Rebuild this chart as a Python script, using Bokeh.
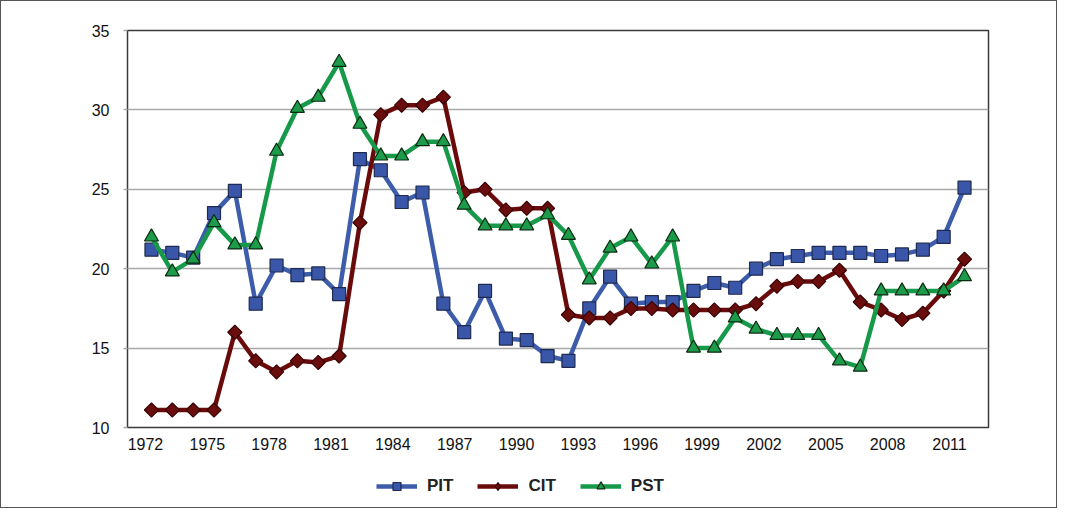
import math
from bokeh.plotting import figure
from bokeh.layouts import column
from bokeh.models import Legend, LegendItem, FixedTicker, Range1d
from bokeh.embed import file_html
from bokeh.resources import INLINE

years = list(range(1972, 2012))
pit = [21.2, 21.0, 20.7, 23.5, 24.9, 17.8, 20.2, 19.6, 19.7, 18.4,
       26.9, 26.2, 24.2, 24.8, 17.8, 16.0, 18.6, 15.6, 15.5, 14.5,
       14.2, 17.5, 19.5, 17.8, 17.9, 17.9, 18.6, 19.1, 18.8, 20.0,
       20.6, 20.8, 21.0, 21.0, 21.0, 20.8, 20.9, 21.2, 22.0, 25.1]
cit = [11.1, 11.1, 11.1, 11.1, 16.0, 14.2, 13.5, 14.2, 14.1, 14.5,
       22.9, 29.7, 30.3, 30.3, 30.8, 24.8, 25.0, 23.7, 23.8, 23.8,
       17.1, 16.9, 16.9, 17.5, 17.5, 17.4, 17.4, 17.4, 17.4, 17.8,
       18.9, 19.2, 19.2, 19.9, 17.9, 17.4, 16.8, 17.2, 18.6, 20.6]
pst = [22.0, 19.8, 20.6, 22.9, 21.5, 21.5, 27.4, 30.1, 30.8, 33.0,
       29.1, 27.1, 27.1, 28.0, 28.0, 24.0, 22.7, 22.7, 22.7, 23.4,
       22.1, 19.3, 21.3, 22.0, 20.3, 22.0, 15.0, 15.0, 16.9, 16.2,
       15.8, 15.8, 15.8, 14.2, 13.8, 18.6, 18.6, 18.6, 18.6, 19.5]
x_tick_years = list(range(1972, 2012, 3))
y_ticks = [10, 15, 20, 25, 30, 35]
series_names = ["PIT", "CIT", "PST"]

W = 1055
p = figure(width=W, height=455, output_backend="svg", toolbar_location=None,
           x_range=Range1d(1970.85, 2012.15), y_range=Range1d(10, 35),
           min_border_left=126, min_border_right=68, min_border_top=29,
           min_border_bottom=29)
p.outline_line_color = "#3a3a3a"
p.outline_line_width = 1.5

p.xgrid.grid_line_color = None
p.ygrid.grid_line_color = "#a9a9a9"
p.ygrid.grid_line_width = 1.5
p.yaxis.ticker = FixedTicker(ticks=y_ticks)

# category labels sit slightly left of their points in the original
tick_pos = [yr - (0.29 + 0.43 * (yr - 1972) / 39) for yr in x_tick_years]
p.xaxis.ticker = FixedTicker(ticks=tick_pos)
p.xaxis.major_label_overrides = {t: str(yr) for t, yr in zip(tick_pos, x_tick_years)}

for ax in (p.xaxis, p.yaxis):
    ax.axis_line_color = None
    ax.minor_tick_line_color = None
    ax.major_label_text_font = "Liberation Sans"
    ax.major_label_text_color = "#111111"
    ax.major_label_text_font_size = "16px"
p.xaxis.major_tick_line_color = None
p.xaxis.major_label_standoff = 4
p.yaxis.major_tick_line_color = "#a9a9a9"
p.yaxis.major_tick_line_width = 1.5
p.yaxis.major_tick_out = 4
p.yaxis.major_tick_in = 0
p.yaxis.major_label_standoff = 14

styles = [
    ("#3d5dab", "square", "#3a56a8", "#1f2a4f", 13, 0.0),
    ("#6a0b0b", "square", "#6a0d0d", "#3a0303", 10, math.pi / 4),
    ("#17994a", "triangle", "#1c9b4a", "#0c2a12", 14, 0.0),
]
for name, vals, (lc, mk, fc, mlc, sz, ang) in zip(series_names, [pit, cit, pst], styles):
    p.line(years, vals, line_color=lc, line_width=4.5)
    p.scatter(years, vals, marker=mk, size=sz, angle=ang, fill_color=fc,
              line_color=mlc, line_width=1.2)

# legend strip below the chart (its sample renderers lie outside its visible range)
legend_markers = ["square", "diamond", "triangle"]
lf = figure(width=W, height=51, output_backend="svg", toolbar_location=None,
            x_axis_type=None, y_axis_type=None, x_range=Range1d(0, 1),
            y_range=Range1d(0, 1), min_border_left=0, min_border_right=0,
            min_border_top=0, min_border_bottom=0)
lf.outline_line_color = None
items = []
for name, lm, (lc, mk, fc, mlc, sz, ang) in zip(series_names, legend_markers, styles):
    l = lf.line([5, 6], [5, 5], line_color=lc, line_width=4.5)
    s = lf.scatter([5], [5], marker=lm, size=sz, fill_color=fc,
                   line_color=mlc, line_width=1.2)
    items.append(LegendItem(label=name, renderers=[l, s]))
# the strip's frame is aligned with the chart's frame (left edge at 126 px)
legend = Legend(items=items, orientation="horizontal", location=(249, 11))
legend.border_line_color = None
legend.background_fill_alpha = 0
legend.label_text_font = "Liberation Sans"
legend.label_text_font_style = "bold"
legend.label_text_font_size = "17px"
legend.label_text_color = "#222222"
legend.glyph_width = 41
legend.glyph_height = 20
legend.label_standoff = 10
legend.spacing = 24
legend.margin = 0
legend.padding = 6
lf.add_layout(legend, "center")

layout = column(p, lf, spacing=0)
layout.styles = {"border": "1px solid #555555"}

open("out.html", "w").write(file_html(layout, INLINE))
